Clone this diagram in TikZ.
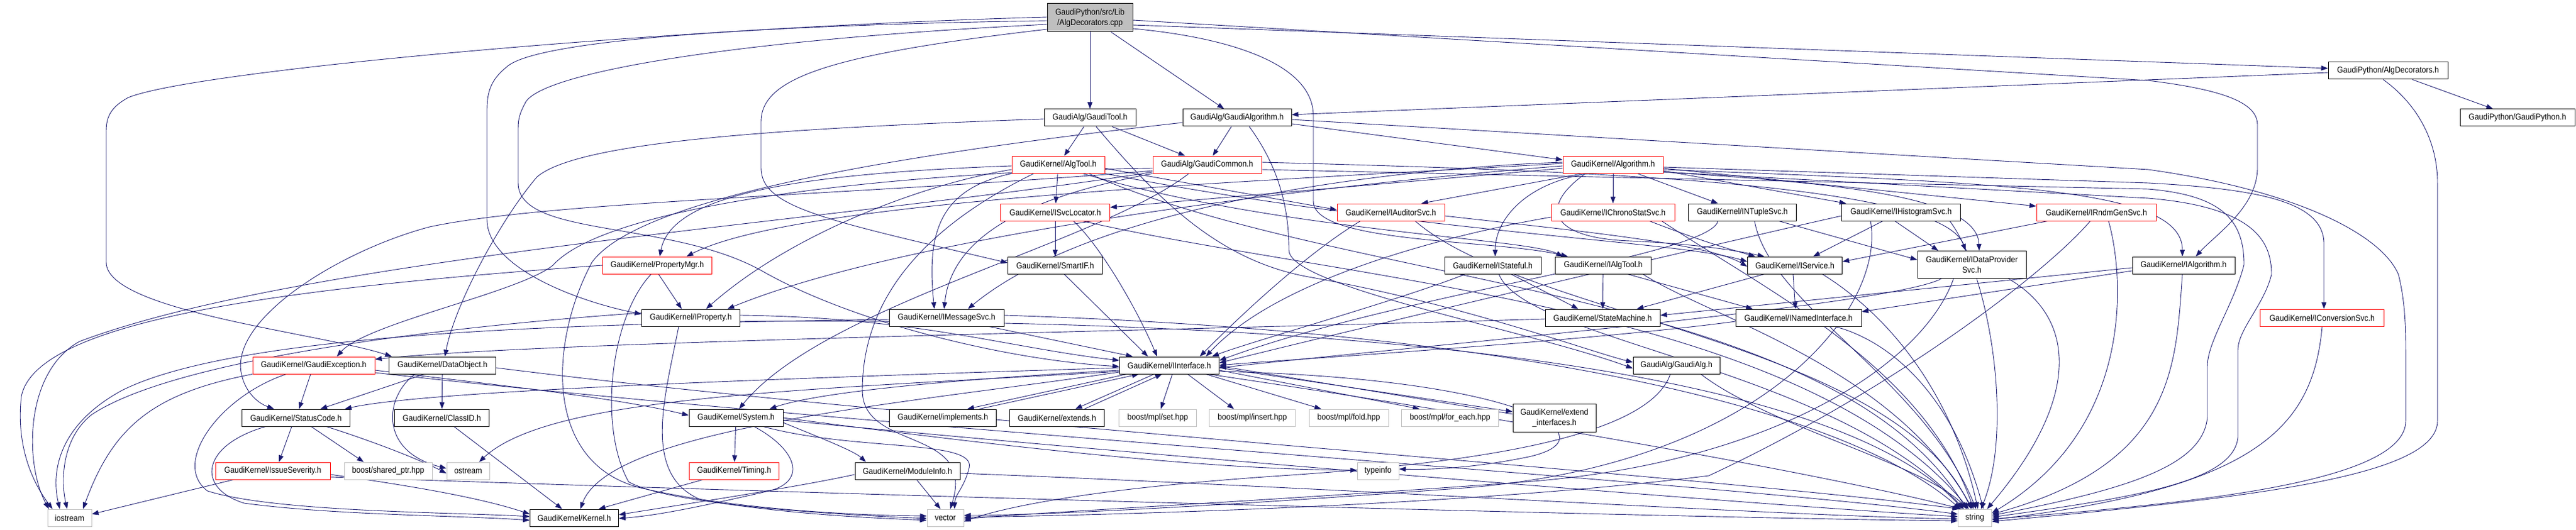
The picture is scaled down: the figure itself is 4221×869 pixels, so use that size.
\documentclass[tikz,border=0pt]{standalone}
\usepackage{fontspec}
\newfontfamily\hdrfont[FakeStretch=0.9]{Liberation Sans}
\usetikzlibrary{arrows.meta}
\usetikzlibrary{backgrounds}
\definecolor{edgeblue}{HTML}{191970}
\definecolor{sysgray}{HTML}{BFBFBF}
\definecolor{hdrred}{HTML}{FF0000}
\tikzset{
  hdr/.style={draw=black, fill=white, line width=1pt, rectangle, minimum height=28pt,
    inner sep=0pt, align=center, font=\hdrfont\fontsize{14}{17}\selectfont},
  redhdr/.style={hdr, draw=hdrred},
  syshdr/.style={hdr, draw=sysgray},
  roothdr/.style={hdr, fill=sysgray, minimum height=46pt},
  inc/.style={draw=edgeblue, line width=0.9pt, -{Triangle[length=11pt,width=8pt]}},
}
\begin{document}
\begin{tikzpicture}[x=1pt, y=-1pt]
\useasboundingbox (0,0) rectangle (4221,869);

% rank 0 - 3
\node[roothdr, minimum width=140pt] (root) at (1786,29) {GaudiPython/src/Lib\\/AlgDecorators.cpp};
\node[hdr, minimum width=196pt] (algdech) at (3913,116) {GaudiPython/AlgDecorators.h};
\node[hdr, minimum width=188pt] (gaudipy) at (4125,193) {GaudiPython/GaudiPython.h};
\node[hdr, minimum width=150pt] (gtool) at (1786,193) {GaudiAlg/GaudiTool.h};
\node[hdr, minimum width=178pt] (galgo) at (2027,193) {GaudiAlg/GaudiAlgorithm.h};
\node[redhdr, minimum width=152pt] (algtool) at (1734,270) {GaudiKernel/AlgTool.h};
\node[redhdr, minimum width=178pt] (gcommon) at (1978,270) {GaudiAlg/GaudiCommon.h};
\node[redhdr, minimum width=164pt] (algorithm) at (2643,270) {GaudiKernel/Algorithm.h};

% rank 4 - 5
\node[redhdr, minimum width=179pt] (isvcloc) at (1729,348) {GaudiKernel/ISvcLocator.h};
\node[redhdr, minimum width=176pt] (iauditor) at (2279,348) {GaudiKernel/IAuditorSvc.h};
\node[redhdr, minimum width=202pt] (ichrono) at (2643,348) {GaudiKernel/IChronoStatSvc.h};
\node[hdr, minimum width=177pt] (intuple) at (2855,348) {GaudiKernel/INTupleSvc.h};
\node[hdr, minimum width=195pt] (ihisto) at (3115,348) {GaudiKernel/IHistogramSvc.h};
\node[redhdr, minimum width=196pt] (irndm) at (3435,348) {GaudiKernel/IRndmGenSvc.h};
\node[redhdr, minimum width=179pt] (propmgr) at (1077,435) {GaudiKernel/PropertyMgr.h};
\node[hdr, minimum width=155pt] (smartif) at (1729,435) {GaudiKernel/SmartIF.h};
\node[hdr, minimum width=158pt] (istateful) at (2446,435) {GaudiKernel/IStateful.h};
\node[hdr, minimum width=157pt] (ialgtool) at (2627,435) {GaudiKernel/IAlgTool.h};
\node[hdr, minimum width=155pt] (iservice) at (2941,435) {GaudiKernel/IService.h};
\node[hdr, minimum width=178pt, minimum height=45pt] (idataprov) at (3231,434) {GaudiKernel/IDataProvider\\Svc.h};
\node[hdr, minimum width=168pt] (ialgorithm) at (3578,435) {GaudiKernel/IAlgorithm.h};

% rank 6 - 7
\node[hdr, minimum width=161pt] (iproperty) at (1132,521) {GaudiKernel/IProperty.h};
\node[hdr, minimum width=188pt] (imsgsvc) at (1551,521) {GaudiKernel/IMessageSvc.h};
\node[hdr, minimum width=188pt] (statemach) at (2626,521) {GaudiKernel/StateMachine.h};
\node[hdr, minimum width=206pt] (inamed) at (2947,521) {GaudiKernel/INamedInterface.h};
\node[redhdr, minimum width=203pt] (iconv) at (3805,521) {GaudiKernel/IConversionSvc.h};
\node[redhdr, minimum width=200pt] (gexcept) at (514,599) {GaudiKernel/GaudiException.h};
\node[hdr, minimum width=175pt] (dataobj) at (725,599) {GaudiKernel/DataObject.h};
\node[hdr, minimum width=163pt] (iinterface) at (1916,599) {GaudiKernel/IInterface.h};
\node[hdr, minimum width=142pt] (gaudialg) at (2747,599) {GaudiAlg/GaudiAlg.h};

% rank 8 - 10
\node[hdr, minimum width=177pt] (statuscode) at (485,685) {GaudiKernel/StatusCode.h};
\node[hdr, minimum width=155pt] (classid) at (724,685) {GaudiKernel/ClassID.h};
\node[hdr, minimum width=154pt] (system) at (1206,685) {GaudiKernel/System.h};
\node[hdr, minimum width=175pt] (implements) at (1545,685) {GaudiKernel/implements.h};
\node[hdr, minimum width=155pt] (extends) at (1732,685) {GaudiKernel/extends.h};
\node[syshdr, minimum width=127pt] (mplset) at (1897,685) {boost/mpl/set.hpp};
\node[syshdr, minimum width=141pt] (mplinsert) at (2052,685) {boost/mpl/insert.hpp};
\node[syshdr, minimum width=130pt] (mplfold) at (2210,685) {boost/mpl/fold.hpp};
\node[syshdr, minimum width=159pt] (mplforeach) at (2376,685) {boost/mpl/for\_each.hpp};
\node[hdr, minimum width=136pt, minimum height=46pt] (extendif) at (2547,685) {GaudiKernel/extend\\\_interfaces.h};
\node[redhdr, minimum width=188pt] (issuesev) at (447,772) {GaudiKernel/IssueSeverity.h};
\node[syshdr, minimum width=144pt] (sharedptr) at (636,772) {boost/shared\_ptr.hpp};
\node[syshdr, minimum width=70pt] (ostream) at (767,772) {ostream};
\node[redhdr, minimum width=147pt] (timing) at (1203,772) {GaudiKernel/Timing.h};
\node[hdr, minimum width=172pt] (moduleinfo) at (1487,772) {GaudiKernel/ModuleInfo.h};
\node[syshdr, minimum width=68pt] (typeinfo) at (2258,772) {typeinfo};
\node[syshdr, minimum width=72pt] (iostream) at (114,849) {iostream};
\node[hdr, minimum width=145pt] (kernel) at (941,849) {GaudiKernel/Kernel.h};
\node[syshdr, minimum width=60pt] (vector) at (1549,849) {vector};
\node[syshdr, minimum width=55pt] (string) at (3236,849) {string};

\begin{scope}[on background layer]
\fill[white] (0,0) rectangle (4221,869);

% source file
\draw[inc] (root) -- (gtool);
\draw[inc] (root) -- (galgo);
\draw[inc] ([yshift=-12]root.east) -- ([yshift=4]algdech.west);
\draw[inc] ([yshift=-4]root.east) -- (3520,132) .. controls (3650,148) and (3699,170) .. (3699,205)
  -- (3699,275) .. controls (3699,340) and (3630,385) .. ([xshift=20]ialgorithm.north);
\draw[inc] ([yshift=-18]root.east) .. controls (2000,60) and (2152,100) .. (2152,190)
  -- (2152,330) .. controls (2152,400) and (2450,392) .. ([xshift=-58]ialgtool.north);
\draw[inc] ([yshift=-5]root.west) .. controls (1300,40) and (880,62) .. (830,110)
  .. controls (805,130) and (798,150) .. (798,180) -- (798,360)
  .. controls (798,440) and (950,495) .. ([yshift=6]iproperty.west);
\draw[inc] ([yshift=1]root.west) .. controls (1100,45) and (320,115) .. (210,160)
  .. controls (183,175) and (174,190) .. (174,215) -- (174,430)
  .. controls (174,510) and (520,545) .. ([xshift=-83]dataobj.north);
\draw[inc] ([yshift=-11]root.west) .. controls (1200,65) and (880,120) .. (860,170)
  .. controls (852,185) and (849,195) .. (849,210) -- (849,300)
  .. controls (849,390) and (1100,360) .. (1250,445)
  .. controls (1400,530) and (1650,590) .. ([yshift=-2]iinterface.west);
\draw[inc] ([yshift=-19]root.west) .. controls (1350,90) and (1247,130) .. (1247,200)
  -- (1247,275) .. controls (1247,340) and (1350,360) .. ([yshift=4]smartif.west);

% python side
\draw[inc] ([yshift=-3]algdech.west) -- ([yshift=5]galgo.east);
\draw[inc] (algdech) -- (gaudipy);
\draw[inc] ([xshift=-8]algdech.south) .. controls (3960,170) and (3994,230) .. (3994,300)
  -- (3994,690) .. controls (3994,780) and (3700,815) .. ([yshift=-6]string.east);

% GaudiTool, GaudiAlgorithm
\draw[inc] (gtool) -- (algtool);
\draw[inc] (gtool) -- (gcommon);
\draw[inc] ([xshift=10]gtool.south) .. controls (1900,330) and (2000,430) .. (2150,455)
  .. controls (2400,500) and (2600,575) .. ([yshift=5]gaudialg.west);
\draw[inc] ([yshift=-2]gtool.west) .. controls (1300,210) and (950,230) .. (880,290)
  .. controls (820,360) and (745,500) .. ([xshift=4]dataobj.north);
\draw[inc] (galgo) -- (gcommon);
\draw[inc] ([yshift=-10]galgo.east) -- ([yshift=8]algorithm.west);
\draw[inc] ([xshift=20]galgo.south) .. controls (2100,280) and (2112,350) .. (2112,410)
  .. controls (2112,470) and (2500,540) .. ([yshift=-5]gaudialg.west);
\draw[inc] ([yshift=-3]galgo.east) -- (3520,278) .. controls (3750,310) and (3900,380) .. (3930,450)
  .. controls (3940,490) and (3942,530) .. (3942,574) -- (3942,690)
  .. controls (3942,790) and (3600,825) .. ([yshift=-2]string.east);
\draw[inc] ([yshift=-8]galgo.west) .. controls (1500,250) and (1050,320) .. (970,430)
  .. controls (900,560) and (890,760) .. (1050,800)
  .. controls (1200,835) and (1400,845) .. ([yshift=3]vector.west);

% AlgTool
\draw[inc] (algtool) -- (isvcloc);
\draw[inc] (algtool.south west) .. controls (1540,310) and (1518,380) .. ([xshift=-20]imsgsvc.north);
\draw[inc] ([yshift=-8]algtool.west) .. controls (1520,300) and (1300,380) .. ([xshift=25]iproperty.north);
\draw[inc] ([yshift=-2]algtool.west) .. controls (1300,285) and (1100,320) .. ([xshift=4]propmgr.north);
\draw[inc] ([yshift=-6]algtool.east) -- ([yshift=4]iauditor.west);
\draw[inc] ([xshift=40]algtool.south) .. controls (2100,380) and (2500,390) .. ([xshift=-66]ialgtool.north);
\draw[inc] (algtool.south east) .. controls (2300,380) and (2750,395) .. ([yshift=6]iservice.west);
\draw[inc] ([xshift=50]algtool.south) .. controls (2200,470) and (3000,470) .. ([xshift=-14]string.north);
\draw[inc] ([xshift=-40]algtool.south) .. controls (1500,380) and (1413,500) .. (1413,640)
  .. controls (1413,740) and (1600,700) .. ([xshift=8]vector.north);

% GaudiCommon
\draw[inc] (gcommon.south west) .. controls (1700,320) and (1560,380) .. ([xshift=-4]imsgsvc.north);
\draw[inc] ([yshift=-6]gcommon.west) .. controls (1500,280) and (1000,330) .. (906,435)
  .. controls (850,480) and (600,530) .. ([xshift=38]gexcept.north);
\draw[inc] ([yshift=-10]gcommon.west) .. controls (1400,320) and (900,330) .. (704,372)
  .. controls (560,410) and (380,520) .. (395,610)
  .. controls (400,640) and (420,660) .. ([xshift=-36]statuscode.north);
\draw[inc] ([xshift=-30]gcommon.south) .. controls (1800,400) and (1350,500) .. ([xshift=5]system.north);
\draw[inc] ([yshift=4]gcommon.east) .. controls (2600,280) and (3180,300) .. ([xshift=-10]idataprov.north);
\draw[inc] ([yshift=-8]gcommon.east) -- (3520,310) .. controls (3640,320) and (3677,360) .. (3677,434)
  .. controls (3660,500) and (3617,560) .. (3617,600) -- (3617,684)
  .. controls (3610,760) and (3500,800) .. ([yshift=4]string.east);
\draw[inc] ([yshift=-12]gcommon.west) .. controls (1400,360) and (500,420) .. (130,560)
  .. controls (40,610) and (40,760) .. ([xshift=-34]iostream.north);

% Algorithm
\draw[inc] (algorithm) -- (ichrono);
\draw[inc] ([xshift=-50]algorithm.south) -- ([xshift=50]iauditor.north);
\draw[inc] ([xshift=-40]algorithm.south) .. controls (2500,300) and (2450,360) .. ([xshift=4]istateful.north);
\draw[inc] ([xshift=40]algorithm.south) -- ([xshift=-40]intuple.north);
\draw[inc] ([yshift=-10]algorithm.east) -- ([xshift=-90]ihisto.north);
\draw[inc] ([yshift=-6]algorithm.east) -- ([yshift=10]irndm.west);
\draw[inc] ([yshift=-12]algorithm.east) .. controls (3000,300) and (3240,320) .. ([xshift=12]idataprov.north);
\draw[inc] ([yshift=-4]algorithm.east) -- (3520,300) .. controls (3700,310) and (3808,330) .. (3808,400)
  -- ([xshift=3]iconv.north);
\draw[inc] ([yshift=-8]algorithm.east) .. controls (3300,300) and (3576,310) .. ([xshift=-2]ialgorithm.north);
\draw[inc] ([xshift=-45]algorithm.south) .. controls (2520,340) and (2540,390) .. (2670,395)
  .. controls (2780,400) and (2840,410) .. ([xshift=-50]iservice.north);
\draw[inc] ([yshift=4]algorithm.west) .. controls (2300,275) and (1800,330) .. ([xshift=35]imsgsvc.north);
\draw[inc] ([yshift=-6]algorithm.west) -- ([yshift=8]isvcloc.east);
\draw[inc] ([yshift=-2]algorithm.west) .. controls (2200,300) and (1500,380) .. ([xshift=60]iproperty.north);
\draw[inc] ([yshift=2]algorithm.west) .. controls (2000,300) and (1300,330) .. ([xshift=48]propmgr.north);
\draw[inc] ([yshift=-12]algorithm.east) -- (3520,325) .. controls (3700,340) and (3722,400) .. (3722,450)
  .. controls (3710,500) and (3667,540) .. (3667,574) -- (3667,717)
  .. controls (3660,790) and (3500,815) .. ([yshift=1]string.east);

% service interfaces
\draw[inc] (isvcloc) -- (smartif);
\draw[inc] ([xshift=30]isvcloc.south) .. controls (1800,400) and (1860,500) .. ([xshift=-20]iinterface.north);
\draw[inc] ([xshift=45]isvcloc.south) .. controls (2200,460) and (2950,500) .. ([xshift=-10]string.north);
\draw[inc] ([xshift=-50]iauditor.south) .. controls (2150,410) and (2050,500) .. ([xshift=50]iinterface.north);
\draw[inc] ([yshift=-6]iauditor.east) .. controls (2600,380) and (2800,400) .. ([yshift=-2]iservice.west);
\draw[inc] ([xshift=40]iauditor.south) .. controls (2500,520) and (3100,560) .. ([xshift=-6]string.north);
\draw[inc] ([yshift=-8]ichrono.west) .. controls (2400,380) and (2100,450) .. ([xshift=60]iinterface.north);
\draw[inc] ([xshift=60]ichrono.south) .. controls (2800,400) and (2840,410) .. ([xshift=-65]iservice.north);
\draw[inc] ([xshift=80]ichrono.south) .. controls (2900,480) and (3150,600) .. ([xshift=-2]string.north);
\draw[inc] ([xshift=60]intuple.south) -- ([yshift=8]idataprov.west);
\draw[inc] ([xshift=-40]intuple.south) .. controls (2800,420) and (2300,480) .. ([yshift=8]iinterface.east);
\draw[inc] ([xshift=20]intuple.south) .. controls (2900,500) and (3150,620) .. ([xshift=2]string.north);
\draw[inc] ([xshift=-30]ihisto.south) -- ([xshift=30]iservice.north);
\draw[inc] ([xshift=-10]ihisto.south) -- ([xshift=-55]idataprov.north);
\draw[inc] ([yshift=-6]ihisto.west) .. controls (2900,380) and (2300,520) .. ([yshift=4]iinterface.east);
\draw[inc] ([xshift=-50]ihisto.south) .. controls (3090,500) and (2900,760) .. (2400,800)
  .. controls (2000,830) and (1700,845) .. ([yshift=4]vector.east);
\draw[inc] ([xshift=80]ihisto.south) .. controls (3260,450) and (3300,700) .. ([xshift=10]string.north);
\draw[inc] ([xshift=-80]irndm.south) -- ([yshift=6]iservice.east);
\draw[inc] ([xshift=-10]irndm.south) .. controls (3350,450) and (3100,640) .. (2800,780)
  .. controls (2400,830) and (1800,845) .. ([yshift=1]vector.east);
\draw[inc] ([xshift=20]irndm.south) .. controls (3480,450) and (3500,700) .. ([yshift=8]string.east);

% smaller interfaces
\draw[inc] ([yshift=3]propmgr.south) -- ([xshift=-15]iproperty.north);
\draw[inc] (propmgr.west) .. controls (500,470) and (60,520) .. (35,650)
  .. controls (25,740) and (60,800) .. ([xshift=-28]iostream.north);
\draw[inc] ([xshift=-10]propmgr.south) .. controls (1000,520) and (980,700) .. (1030,790)
  .. controls (1100,830) and (1400,845) .. ([yshift=-1]vector.west);
\draw[inc] (smartif) -- ([xshift=-35]iinterface.north);
\draw[inc] ([xshift=-45]istateful.south) .. controls (2300,490) and (2050,560) .. ([xshift=70]iinterface.north);
\draw[inc] ([xshift=30]istateful.south) -- ([xshift=-40]statemach.north);
\draw[inc] ([xshift=10]istateful.south) .. controls (2500,560) and (3000,600) .. ([xshift=-18]string.north);
\draw[inc] (ialgtool) -- (statemach);
\draw[inc] ([xshift=40]ialgtool.south) -- ([xshift=-75]inamed.north);
\draw[inc] ([xshift=65]ialgtool.south) .. controls (2800,520) and (3100,600) .. ([xshift=-4]string.north);
\draw[inc] ([xshift=-3]iservice.south) -- ([xshift=-5]inamed.north);
\draw[inc] ([xshift=-50]iservice.south) -- ([xshift=56]statemach.north);
\draw[inc] ([xshift=45]iservice.south) .. controls (3100,520) and (3200,650) .. ([xshift=5]string.north);
\draw[inc] ([xshift=-50]idataprov.south) .. controls (3100,500) and (2400,560) .. ([yshift=-4]iinterface.east);
\draw[inc] ([xshift=60]idataprov.south) .. controls (3400,520) and (3413,650) .. ([xshift=20]string.north);
\draw[inc] ([xshift=-30]idataprov.south) .. controls (3150,600) and (2900,760) .. (2500,790)
  .. controls (2100,820) and (1700,840) .. ([yshift=-2]vector.east);
\draw[inc] ([yshift=-9]ialgorithm.west) -- ([yshift=10]inamed.east);
\draw[inc] ([yshift=-4]ialgorithm.west) -- ([yshift=4]statemach.east);
\draw[inc] ([xshift=-2]ialgorithm.south) .. controls (3565,600) and (3565,760) .. ([yshift=6]string.east);
\draw[inc] ([yshift=4]iproperty.east) .. controls (1500,520) and (1650,570) .. ([yshift=8]iinterface.west);
\draw[inc] ([yshift=-6]iproperty.east) .. controls (2200,520) and (3000,600) .. ([xshift=-20]string.north);
\draw[inc] ([xshift=-20]iproperty.south) .. controls (1090,650) and (1050,780) .. (1150,820)
  .. controls (1300,845) and (1450,850) .. ([yshift=-4]vector.west);
\draw[inc] ([yshift=8]iproperty.west) .. controls (800,530) and (300,580) .. (150,680)
  .. controls (100,720) and (100,790) .. ([xshift=-4]iostream.north);
\draw[inc] ([xshift=70]imsgsvc.south) -- ([xshift=-60]iinterface.north);
\draw[inc] ([yshift=4]imsgsvc.east) .. controls (2400,540) and (3000,650) .. ([xshift=-24]string.north);
\draw[inc] ([yshift=-3]imsgsvc.west) .. controls (1000,530) and (400,540) .. (200,640)
  .. controls (90,700) and (85,780) .. ([xshift=-16]iostream.north);
\draw[inc] ([yshift=-2]statemach.west) .. controls (1800,545) and (900,560) .. ([yshift=10]gexcept.east);
\draw[inc] ([yshift=-6]inamed.west) .. controls (2600,560) and (2100,590) .. ([yshift=0]iinterface.east);
\draw[inc] ([xshift=60]inamed.south) .. controls (3100,560) and (3200,650) .. ([xshift=14]string.north);
\draw[inc] (iconv.south) .. controls (3790,700) and (3700,800) .. ([yshift=-3]string.east);

% GaudiException, DataObject
\draw[inc] ([xshift=-5]gexcept.south) -- ([xshift=5]statuscode.north);
\draw[inc] (gexcept.south west) .. controls (250,645) and (185,700) .. ([xshift=22]iostream.north);
\draw[inc] ([xshift=-45]gexcept.south) .. controls (360,650) and (280,760) .. (340,805)
  .. controls (450,840) and (750,840) .. ([yshift=2]kernel.west);
\draw[inc] ([yshift=-8]gexcept.east) .. controls (800,630) and (1000,650) .. ([yshift=4]system.west);
\draw[inc] ([yshift=-12]gexcept.east) .. controls (1400,700) and (2800,790) .. ([yshift=6]string.west);
\draw[inc] ([xshift=-30]dataobj.south) -- ([xshift=40]statuscode.north);
\draw[inc] (dataobj) -- (classid);
\draw[inc] ([xshift=-45]dataobj.south) .. controls (630,650) and (620,740) .. ([yshift=4]ostream.west);
\draw[inc] ([yshift=-4]dataobj.east) .. controls (1500,690) and (2800,780) .. ([xshift=-26]string.north);

% IInterface
\draw[inc] ([xshift=-70]iinterface.south) -- ([xshift=40]implements.north);
\draw[inc] ([xshift=60]implements.north) -- ([xshift=-50]iinterface.south);
\draw[inc] ([xshift=-25]iinterface.south) -- ([xshift=30]extends.north);
\draw[inc] ([xshift=45]extends.north) -- ([xshift=-12]iinterface.south);
\draw[inc] ([xshift=5]iinterface.south) -- ([xshift=5]mplset.north);
\draw[inc] ([xshift=30]iinterface.south) -- ([xshift=-30]mplinsert.north);
\draw[inc] ([xshift=60]iinterface.south) -- ([xshift=-45]mplfold.north);
\draw[inc] ([yshift=-8]iinterface.east) -- ([xshift=-50]mplforeach.north);
\draw[inc] ([yshift=-4]iinterface.east) -- ([yshift=10]extendif.west);
\draw[inc] ([yshift=6]extendif.west) -- ([yshift=-1]iinterface.east);
\draw[inc] ([yshift=-8]iinterface.west) .. controls (1600,620) and (1350,640) .. ([xshift=55]system.north);
\draw[inc] ([yshift=-4]iinterface.west) .. controls (1300,620) and (700,640) .. ([xshift=80]statuscode.north);
\draw[inc] ([yshift=-10]iinterface.west) .. controls (1300,640) and (900,650) .. ([xshift=18]ostream.north);
\draw[inc] ([yshift=-11]iinterface.west) .. controls (1500,660) and (1000,700) .. ([xshift=10]kernel.north);
\draw[inc] ([yshift=-10]iinterface.east) .. controls (2500,620) and (2650,720) .. (2500,750)
  .. controls (2400,770) and (2330,770) .. ([yshift=3]typeinfo.east);
\draw[inc] ([xshift=64]iinterface.south) .. controls (2500,690) and (3000,780) .. ([xshift=-22]string.north);
\draw[inc] ([xshift=40]gaudialg.south) .. controls (2900,700) and (3150,760) .. ([xshift=-12]string.north);
\draw[inc] ([xshift=-10]gaudialg.south) .. controls (2700,720) and (2400,760) .. (2100,780)
  .. controls (1800,800) and (1650,830) .. ([yshift=-6]vector.east);

% StatusCode and below
\draw[inc] ([xshift=-7]statuscode.south) -- ([xshift=10]issuesev.north);
\draw[inc] ([xshift=25]statuscode.south) -- ([xshift=-40]sharedptr.north);
\draw[inc] ([xshift=-50]statuscode.south) .. controls (330,730) and (320,800) .. (400,825)
  .. controls (550,845) and (750,845) .. ([yshift=-4]kernel.west);
\draw[inc] ([xshift=50]statuscode.south) .. controls (600,720) and (680,750) .. ([yshift=-4]ostream.west);
\draw[inc] ([xshift=20]classid.south) -- ([xshift=-20]kernel.north);
\draw[inc] (system) -- (timing);
\draw[inc] ([xshift=30]system.south) .. controls (1310,740) and (1320,790) .. (1260,805)
  .. controls (1150,830) and (1080,845) .. ([yshift=-1]kernel.east);
\draw[inc] ([yshift=-8]system.east) .. controls (1350,720) and (1400,740) .. ([xshift=-68]moduleinfo.north);
\draw[inc] ([xshift=45]system.south) .. controls (1400,740) and (1600,720) .. (1588,767)
  .. controls (1580,800) and (1565,810) .. ([xshift=15]vector.north);
\draw[inc] ([yshift=-4]system.east) .. controls (1800,740) and (2900,830) .. ([yshift=2]string.west);
\draw[inc] ([yshift=0]system.east) .. controls (1700,740) and (2000,770) .. ([yshift=1]typeinfo.west);
\draw[inc] ([xshift=30]issuesev.south west) -- ([yshift=6]iostream.east);
\draw[inc] ([yshift=-6]issuesev.east) .. controls (700,800) and (800,820) .. ([yshift=6]kernel.west);
\draw[inc] ([yshift=-10]issuesev.east) .. controls (1500,815) and (2800,850) .. ([yshift=-5]string.west);
\draw[inc] (timing) -- ([xshift=40]kernel.north);
\draw[inc] ([yshift=-6]moduleinfo.west) .. controls (1300,800) and (1100,830) .. ([yshift=5]kernel.east);
\draw[inc] ([xshift=15]moduleinfo.south) -- ([xshift=-8]vector.north);
\draw[inc] ([yshift=-4]moduleinfo.east) .. controls (2200,800) and (2900,845) .. ([yshift=-2]string.west);
\end{scope}
\end{tikzpicture}
\end{document}
